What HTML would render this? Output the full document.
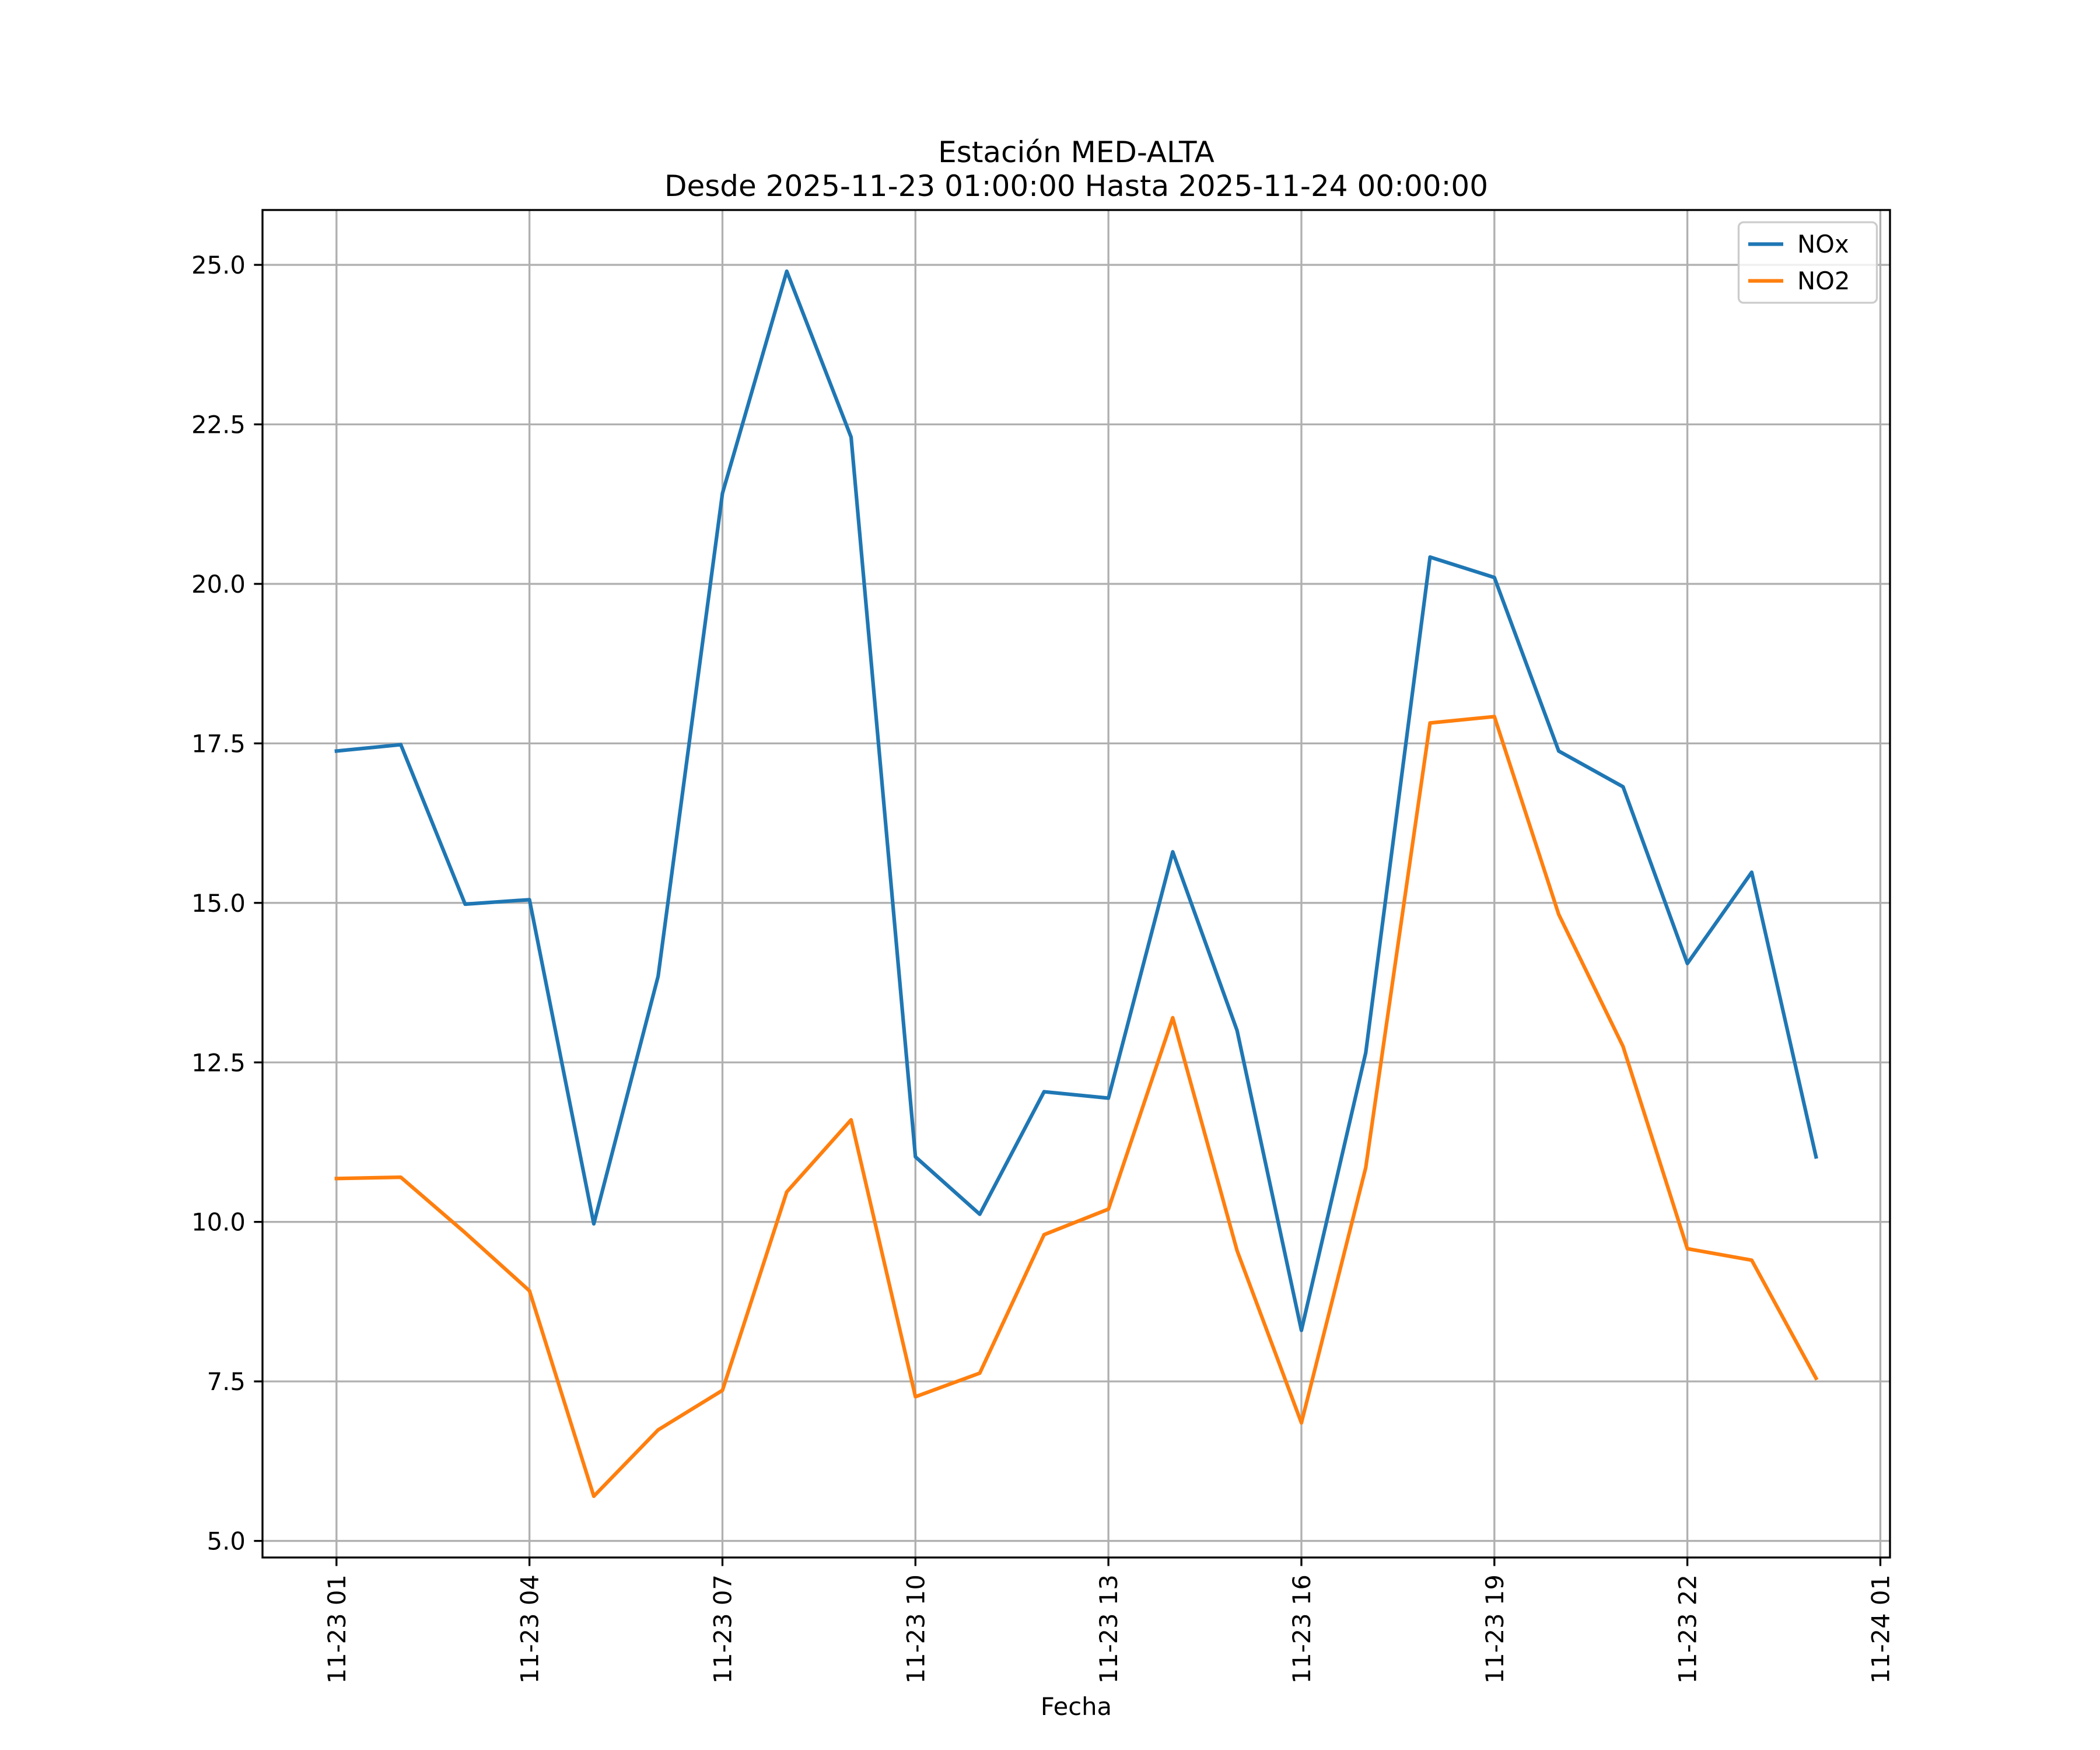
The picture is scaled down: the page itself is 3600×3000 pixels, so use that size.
<!DOCTYPE html>
<html><head><meta charset="utf-8"><style>
html,body{margin:0;padding:0;background:#fff}
svg{display:block}
text{font-family:"DejaVu Sans","Liberation Sans",sans-serif;fill:#000}
</style></head><body>
<svg id="chart" width="3600" height="3000" viewBox="0 0 1200 1000" xmlns="http://www.w3.org/2000/svg">
<rect width="1200" height="1000" fill="#fff"/>
<text x="615" y="92.6" font-size="16.67" text-anchor="middle">Estación MED-ALTA</text>
<text x="615" y="112" font-size="16.67" text-anchor="middle">Desde 2025-11-23 01:00:00 Hasta 2025-11-24 00:00:00</text>
<g id="grid"></g>
<g id="series"></g>
<rect x="150" y="120" width="930" height="770" fill="none" stroke="#000" stroke-width="1.11"/>
<g id="axes"></g>
<text x="615" y="980" font-size="13.89" text-anchor="middle">Fecha</text>
<g>
<rect x="993.5" y="127" width="79" height="46" rx="2.8" fill="#fff" fill-opacity="0.8" stroke="#cccccc" stroke-width="1.11"/>
<line x1="999" y1="139.5" x2="1019" y2="139.5" stroke="#1f77b4" stroke-width="2.08"/>
<text x="1027" y="144.3" font-size="13.89">NOx</text>
<line x1="999" y1="160.5" x2="1019" y2="160.5" stroke="#ff7f0e" stroke-width="2.08"/>
<text x="1027" y="165.3" font-size="13.89">NO2</text>
</g>
</svg>
<script>
const hours = [1,2,3,4,5,6,7,8,9,10,11,12,13,14,15,16,17,18,19,20,21,22,23,24];
const noxValues = [17.38,17.48,14.98,15.05,9.97,13.85,21.42,24.9,22.3,11.02,10.12,12.04,11.94,15.8,13.0,8.3,12.65,20.42,20.1,17.38,16.82,14.05,15.48,11.02];
const no2Values = [10.68,10.7,9.83,8.92,5.7,6.74,7.36,10.47,11.6,7.26,7.63,9.8,10.2,13.2,9.55,6.85,10.85,17.82,17.92,14.82,12.75,9.58,9.4,7.55];
const yTicks = [5.0,7.5,10.0,12.5,15.0,17.5,20.0,22.5,25.0];
const xTickHours = [1,4,7,10,13,16,19,22,25];
const xTickLabels = ["11-23 01","11-23 04","11-23 07","11-23 10","11-23 13","11-23 16","11-23 19","11-23 22","11-24 01"];

const NS = "http://www.w3.org/2000/svg";
const L = 150, R = 1080, T = 120, B = 890;
const allVals = noxValues.concat(no2Values);
const vmin = Math.min(...allVals), vmax = Math.max(...allVals);
const y0 = vmin - 0.05 * (vmax - vmin), y1 = vmax + 0.05 * (vmax - vmin);
const h0 = hours[0] - 0.05 * (hours[hours.length-1] - hours[0]);
const h1 = hours[hours.length-1] + 0.05 * (hours[hours.length-1] - hours[0]);
function xs(h){ return L + (h - h0) / (h1 - h0) * (R - L); }
function ys(v){ return B - (v - y0) / (y1 - y0) * (B - T); }
function mk(tag, attrs, parent){
  const e = document.createElementNS(NS, tag);
  for (const k in attrs) e.setAttribute(k, attrs[k]);
  parent.appendChild(e); return e;
}
const grid = document.getElementById('grid');
const axes = document.getElementById('axes');
const series = document.getElementById('series');

yTicks.forEach(v => {
  const y = ys(v);
  const g = mk('line', {x1:L, x2:R, y1:y, y2:y, stroke:'#b0b0b0', 'stroke-width':1.11}, grid);
  
  
  const t = mk('line', {x1:L-4.86, x2:L, y1:y, y2:y, stroke:'#000', 'stroke-width':1.11}, axes);
  
  
  const lb = mk('text', {x:L-9.7, y:y+5, 'font-size':13.89, 'text-anchor':'end'}, axes);
  lb.textContent = v.toFixed(1);
  
  
});
xTickHours.forEach((h, i) => {
  const x = xs(h);
  const g = mk('line', {x1:x, x2:x, y1:T, y2:B, stroke:'#b0b0b0', 'stroke-width':1.11}, grid);
  
  
  const t = mk('line', {x1:x, x2:x, y1:B, y2:B+4.86, stroke:'#000', 'stroke-width':1.11}, axes);
  
  
  const lb = mk('text', {x:0, y:0, 'font-size':13.89, 'text-anchor':'end', transform:`translate(${x+5},${B+9.7}) rotate(-90)`}, axes);
  lb.textContent = xTickLabels[i];
  
  
});
function drawLine(vals, color, name){
  const pts = vals.map((v, i) => xs(hours[i]).toFixed(2) + ',' + ys(v).toFixed(2)).join(' ');
  const p = mk('polyline', {points:pts, fill:'none', stroke:color, 'stroke-width':2.08, 'stroke-linejoin':'round', 'stroke-linecap':'square'}, series);
  
  
}
drawLine(noxValues, '#1f77b4', 'nox-line');
drawLine(no2Values, '#ff7f0e', 'no2-line');
</script>
</body></html>
